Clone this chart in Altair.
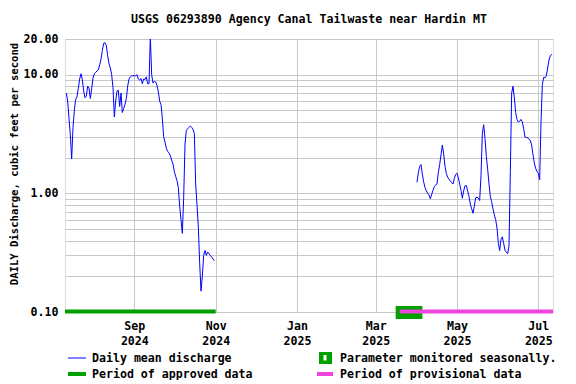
import altair as alt
import pandas as pd

# ---- data ----
seg1_start = "2024-07-12"
seg1_values = [
    7.0, 6.0, 4.3, 3.1, 1.95, 3.6, 5.0, 6.2, 6.5, 7.7,
    9.2, 10.2, 9.1, 7.3, 6.4, 6.6, 8.0, 7.7, 6.3, 7.6,
    9.4, 10.2, 10.5, 10.7, 11.0, 12.1, 13.5, 16.0, 18.4, 18.6,
    17.5, 14.5, 12.4, 11.4, 10.0, 7.8, 4.4, 6.0, 7.3, 7.4,
    5.4, 7.0, 4.8, 5.2, 5.6, 6.3, 8.0, 9.2, 9.6, 9.8,
    9.8, 9.8, 9.8, 10.0, 9.2, 9.0, 9.3, 8.4, 9.2, 9.1,
    9.6, 8.4, 8.4, 21.0, 10.0, 8.5, 8.8, 8.7, 8.1, 7.2,
    6.0, 5.6, 4.3, 3.0, 2.7, 2.4, 2.25, 2.2, 2.08, 1.9,
    1.77, 1.53, 1.39, 1.28, 1.12, 0.78, 0.6, 0.46, 0.91, 2.6,
    3.4, 3.5, 3.6, 3.7, 3.6, 3.45, 3.2, 1.2, 0.80, 0.52,
    0.26, 0.15, 0.2, 0.30, 0.33, 0.30, 0.32, 0.31, 0.30, 0.29,
    0.28, 0.27,
]
seg2_start = "2025-04-01"
seg2_values = [
    1.24, 1.49, 1.69, 1.75, 1.45, 1.25, 1.12, 1.05, 1.0, 0.97,
    0.90, 0.98, 1.06, 1.14, 1.18, 1.2, 1.5, 1.75, 2.11, 2.55,
    2.15, 1.69, 1.47, 1.37, 1.31, 1.28, 1.23, 1.2, 1.34, 1.44,
    1.48, 1.35, 1.2, 1.06, 0.91, 1.05, 1.16, 1.16, 1.05, 0.94,
    0.81, 0.74, 0.68, 0.78, 0.92, 0.93, 0.91, 0.87, 1.41, 3.2,
    3.79, 2.9, 2.05, 1.6, 1.2, 0.94, 0.85, 0.74, 0.66, 0.6,
    0.51, 0.38, 0.33, 0.41, 0.43, 0.38, 0.33, 0.32, 0.31, 0.36,
    1.53, 7.0, 8.0, 6.4, 4.8, 4.2, 4.0, 4.05, 4.2, 4.0,
    3.5, 2.98, 2.95, 2.95, 2.85, 2.8, 2.55, 2.11, 1.8, 1.62,
    1.53, 1.47, 1.3, 4.0, 8.24, 9.5, 9.4, 9.8, 11.4, 13.3,
    14.4, 14.9,
]

approved_period = ["2024-07-11T00:00:00", "2024-11-01T00:00:00"]
provisional_period = ["2025-03-19T00:00:00", "2025-07-12T00:00:00"]
seasonal_marker = ["2025-03-16T00:00:00", "2025-04-05T00:00:00"]

x_domain = [(2024, 7, 11), (2025, 7, 12)]
month_ticks = [(2024, 9, 1), (2024, 11, 1), (2025, 1, 1), (2025, 3, 1), (2025, 5, 1), (2025, 7, 1)]
y_grid = [0.1, 0.2, 0.3, 0.4, 0.5, 0.6, 0.7, 0.8, 0.9,
          1, 2, 3, 4, 5, 6, 7, 8, 9, 10, 20]
y_labels = [0.1, 1, 10, 20]

title_text = "USGS 06293890 Agency Canal Tailwaste near Hardin MT"
y_title = "DAILY Discharge, cubic feet per second"
legend_labels = ["Daily mean discharge", "Period of approved data",
                 "Parameter monitored seasonally.", "Period of provisional data"]

FONT = "DejaVu Sans Mono"
FS = 11.6
BLUE = "#0000ff"
GREEN = "#00a000"
PINK = "#ee44dd"

# ---- build tables ----
def seg(start, vals, name):
    d = pd.date_range(start, periods=len(vals), freq="D").strftime("%Y-%m-%dT%H:%M:%S")
    return pd.DataFrame({"date": d, "q": vals, "seg": name})

df = pd.concat([seg(seg1_start, seg1_values, "a"), seg(seg2_start, seg2_values, "b")])

dt = lambda t: alt.DateTime(year=t[0], month=t[1], date=t[2])

xscale = alt.Scale(domain=[dt(x_domain[0]), dt(x_domain[1])])
yscale = alt.Scale(type="log", domain=[0.1, 20])

line = alt.Chart(df).mark_line(color=BLUE, strokeWidth=1, clip=True).encode(
    x=alt.X("date:T", scale=xscale, title=None,
            axis=alt.Axis(values=[dt(t) for t in month_ticks], grid=True, gridColor="#c8c8c8",
                          domain=False, ticks=False, labelPadding=8,
                          labelExpr="[timeFormat(datum.value, '%b'), timeFormat(datum.value, '%Y')]",
                          labelLineHeight=15, labelFont=FONT, labelFontSize=FS,
                          labelFontWeight="bold", labelColor="black")),
    y=alt.Y("q:Q", scale=yscale, title=y_title,
            axis=alt.Axis(values=y_grid, grid=True, gridColor="#c8c8c8", domain=False,
                          ticks=False, labelPadding=7,
                          labelExpr="indexof(%s, datum.value) >= 0 ? format(datum.value, '.2f') : ''" % str(y_labels),
                          labelFont=FONT, labelFontSize=FS, labelFontWeight="bold", labelColor="black",
                          titleFont=FONT, titleFontSize=10.6, titleFontWeight="bold", titleColor="black",
                          titleAngle=270, titleX=-51, titleY=124.5, titleAlign="center",
                          titleBaseline="middle")),
    detail="seg:N",
)

per = pd.DataFrame({"start": [approved_period[0], provisional_period[0]],
                    "end": [approved_period[1], provisional_period[1]],
                    "kind": ["approved", "provisional"]})
mark_df = pd.DataFrame({"start": [seasonal_marker[0]], "end": [seasonal_marker[1]]})

seasonal = alt.Chart(mark_df).mark_rect(color=GREEN).encode(
    x="start:T", x2="end:T", y=alt.value(267), y2=alt.value(280))
periods = alt.Chart(per).mark_rule(strokeWidth=4).encode(
    x="start:T", x2="end:T", y=alt.value(272.5),
    color=alt.Color("kind:N", scale=alt.Scale(domain=["approved", "provisional"], range=[GREEN, PINK]),
                    legend=None))

# ---- manual legend ----
leg_df = pd.DataFrame({"label": legend_labels})
def leg_text(i, x, y):
    return alt.Chart(leg_df.iloc[[i]]).mark_text(
        align="left", baseline="middle", font=FONT, fontSize=FS, fontWeight="bold", color="black"
    ).encode(text="label:N", x=alt.value(x), y=alt.value(y))

one = pd.DataFrame({"k": [0]})
def leg_rule(x1, x2, y, color, w):
    return alt.Chart(one).mark_rule(color=color, strokeWidth=w).encode(
        x=alt.value(x1), x2=alt.value(x2), y=alt.value(y))
def leg_rect(x1, x2, y1, y2, color):
    return alt.Chart(one).mark_rect(color=color).encode(
        x=alt.value(x1), x2=alt.value(x2), y=alt.value(y1), y2=alt.value(y2))

legend = [
    leg_rule(3, 21, 319, BLUE, 1), leg_text(0, 27, 320),
    leg_rule(3, 21, 335, GREEN, 4), leg_text(1, 27, 336),
    leg_rect(254, 267, 313, 325, GREEN), leg_rect(258.5, 261.5, 316, 321.5, "white"),
    leg_text(2, 275, 320),
    leg_rule(252, 268, 335, PINK, 4), leg_text(3, 275, 336),
]

chart = alt.layer(line, seasonal, periods, *legend).properties(
    width=488, height=273,
    title=alt.Title(title_text, font=FONT, fontSize=FS, fontWeight="bold", color="black",
                    anchor="middle", offset=7),
    autosize=alt.AutoSizeParams(type="none"),
    padding={"left": 57, "top": 31, "right": 15, "bottom": 68},
).configure_view(stroke="black", strokeWidth=1).configure(background="white")

chart.save("out.html", embed_options={"renderer": "svg", "actions": False})
